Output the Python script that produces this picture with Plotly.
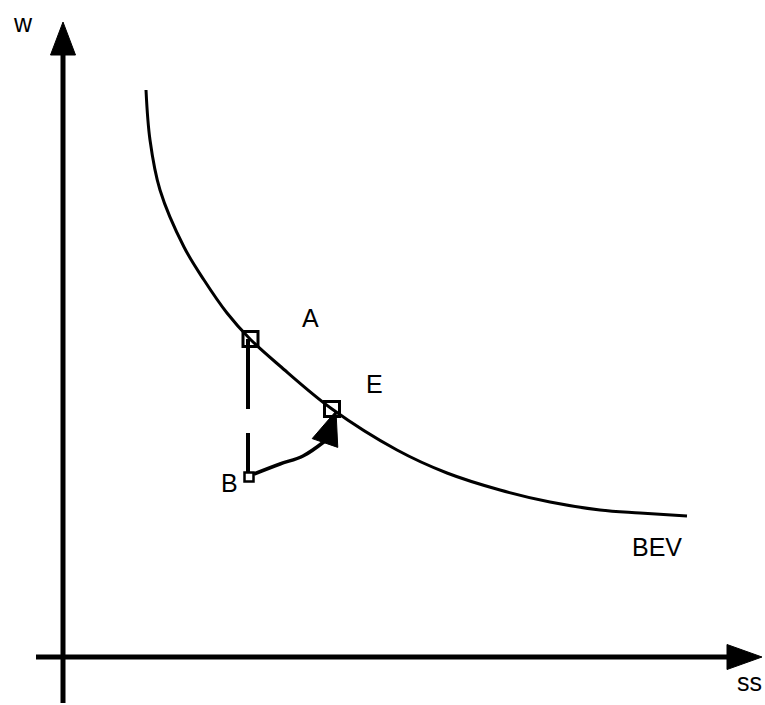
import plotly.graph_objects as go
import math

# ---- data (diagram units: 1 unit = 1 px, origin at axes intersection) ----
bev_ss = [83, 87, 97, 121, 141, 164, 187, 217, 269, 334, 384, 437, 487, 537, 577, 624]
bev_w = [567, 517, 467, 410, 377, 344, 318, 291, 248, 207, 184, 167, 155, 147, 144, 141]

point_names = ["A", "E", "B"]
point_ss = [187.5, 269, 186]
point_w = [318, 248, 180]

# dashed drop from A to B (two dashes)
drop_ss = [185, 185, None, 185, 185]
drop_w = [318, 248, None, 224, 185]

# adjustment path from B toward E
path_ss = [191, 217, 240, 262]
path_w = [183, 193, 201, 216]

# label positions
labels = ["A", "E", "B", "BEV", "w", "ss"]
label_ss = [247, 311, 166, 594, -40, 686]
label_w = [339, 273, 174, 110, 634, -25]

X_RANGE = [-63, 702]
Y_RANGE = [-48, 657]

fig = go.Figure()


def arrowhead(tip, base_mid, half_w):
    tx, ty = tip
    bx, by = base_mid
    dx, dy = tx - bx, ty - by
    L = math.hypot(dx, dy)
    nx, ny = -dy / L, dx / L
    xs = [tx, bx + nx * half_w, bx - nx * half_w, tx]
    ys = [ty, by + ny * half_w, by - ny * half_w, ty]
    return xs, ys


def add_tri(xs, ys):
    fig.add_trace(go.Scatter(x=xs, y=ys, mode="lines", fill="toself",
                             fillcolor="black", line=dict(color="black", width=1),
                             hoverinfo="skip"))


# axes
fig.add_trace(go.Scatter(x=[0, 0], y=[-46, 606], mode="lines",
                         line=dict(color="black", width=5), hoverinfo="skip"))
fig.add_trace(go.Scatter(x=[-27, 668], y=[0, 0], mode="lines",
                         line=dict(color="black", width=5), hoverinfo="skip"))
xs, ys = arrowhead((0, 635), (0, 602), 12.5)
add_tri(xs, ys)
xs, ys = arrowhead((699, 0), (664, 0), 12.5)
add_tri(xs, ys)

# BEV curve
fig.add_trace(go.Scatter(x=bev_ss, y=bev_w, mode="lines",
                         line=dict(color="black", width=3, shape="spline", smoothing=1.0),
                         hoverinfo="skip"))

# dashed drop
fig.add_trace(go.Scatter(x=drop_ss, y=drop_w, mode="lines",
                         line=dict(color="black", width=4), hoverinfo="skip"))

# path B -> E
fig.add_trace(go.Scatter(x=path_ss, y=path_w, mode="lines",
                         line=dict(color="black", width=3.5, shape="spline"),
                         hoverinfo="skip"))
xs, ys = arrowhead((point_ss[1] + 4, point_w[1] - 2), (path_ss[-1], path_w[-1] - 2), 13.5)
add_tri(xs, ys)

# points
fig.add_trace(go.Scatter(x=point_ss[:2], y=point_w[:2], mode="markers",
                         marker=dict(symbol="square-open", size=15, color="#000000",
                                     opacity=1, line=dict(color="#000000", width=3)),
                         hoverinfo="skip"))
fig.add_trace(go.Scatter(x=point_ss[2:], y=point_w[2:], mode="markers",
                         marker=dict(symbol="square-open", size=9, color="#000000",
                                     opacity=1, line=dict(color="#000000", width=2.5)),
                         hoverinfo="skip"))

for t, x, y in zip(labels, label_ss, label_w):
    fig.add_annotation(x=x, y=y, text=t, showarrow=False,
                       font=dict(family="Liberation Sans", size=25, color="black"),
                       xanchor="center", yanchor="middle")

fig.update_layout(
    width=765, height=705,
    margin=dict(l=0, r=0, t=0, b=0),
    paper_bgcolor="white", plot_bgcolor="white",
    showlegend=False,
    hovermode=False,
    xaxis=dict(range=X_RANGE, visible=False, fixedrange=True),
    yaxis=dict(range=Y_RANGE, visible=False, fixedrange=True),
)

fig.write_html(
    "out.html",
    config={"displayModeBar": False, "staticPlot": True},
    post_script="document.body.style.margin='0';document.body.style.overflow='hidden';"
                "document.documentElement.style.overflow='hidden';",
)
